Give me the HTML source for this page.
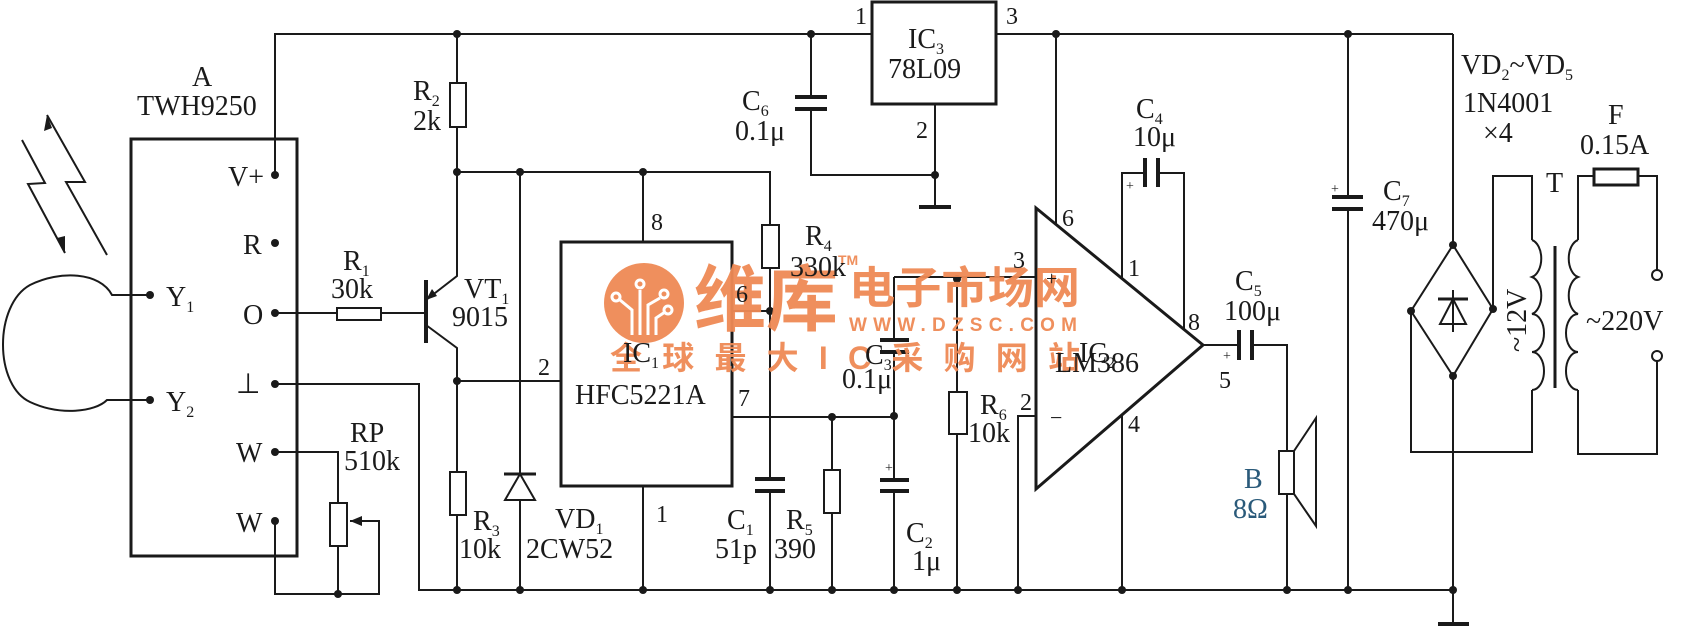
<!DOCTYPE html>
<html><head><meta charset="utf-8"><style>
html,body{margin:0;padding:0;background:#fff;}
svg{display:block;}
text{font-family:"Liberation Serif",serif;fill:#1a1a1a;}
.wm{font-family:"Liberation Sans","Noto Sans CJK SC",sans-serif;fill:#ef8a55;font-weight:bold;}
</style></head><body>
<svg width="1684" height="627" viewBox="0 0 1684 627" xmlns="http://www.w3.org/2000/svg">
<g stroke="#1a1a1a" stroke-width="2" fill="none">
<!-- top rail -->
<polyline points="275,175 275,34 872,34"/>
<line x1="996" y1="34" x2="1453" y2="34"/>
<line x1="1453" y1="34" x2="1453" y2="245"/>
<!-- box A -->
<rect x="131" y="139" width="166" height="417" stroke-width="3"/>
<!-- loop -->
<path d="M150,295 L112,295 C100,272 60,270 30,285 C-6,305 -6,385 30,402 C60,416 95,412 107,400 L150,400"/>
<!-- lightning -->
<polyline points="22,140 45,183 28,184 65,253"/>
<polyline points="47,115 85,182 66,182 107,255"/>
<!-- R1 -->
<line x1="275" y1="313" x2="337" y2="313"/>
<rect x="337" y="308" width="44" height="12"/>
<line x1="381" y1="313" x2="426" y2="313"/>
<!-- transistor -->
<line x1="426" y1="280" x2="426" y2="343" stroke-width="4"/>
<polyline points="426,300 457,276 457,172"/>
<polyline points="426,325 457,348 457,472"/>
<!-- R2 -->
<line x1="457" y1="34" x2="457" y2="83"/>
<rect x="450" y="83" width="16" height="44"/>
<line x1="457" y1="127" x2="457" y2="172"/>
<!-- 172 rail -->
<polyline points="457,172 770,172 770,225"/>
<rect x="762" y="225" width="17" height="43"/>
<line x1="770" y1="268" x2="770" y2="479"/>
<line x1="755" y1="479" x2="785" y2="479" stroke-width="4"/>
<line x1="755" y1="491" x2="785" y2="491" stroke-width="4"/>
<line x1="770" y1="491" x2="770" y2="590"/>
<!-- pin 6 -->
<line x1="732" y1="311" x2="770" y2="311"/>
<!-- IC1 -->
<rect x="561" y="242" width="171" height="244" stroke-width="3"/>
<line x1="643" y1="172" x2="643" y2="242"/>
<line x1="643" y1="486" x2="643" y2="590"/>
<line x1="457" y1="381" x2="561" y2="381"/>
<line x1="732" y1="417" x2="894" y2="417"/>
<!-- R3 -->
<rect x="450" y="472" width="16" height="43"/>
<line x1="457" y1="515" x2="457" y2="590"/>
<!-- VD1 -->
<line x1="520" y1="172" x2="520" y2="590"/>
<polygon points="520,474 505,500 535,500" fill="#fff"/>
<line x1="504" y1="474" x2="536" y2="474" stroke-width="3"/>
<!-- ground rail -->
<polyline points="275,384 419,384 419,590 1453,590"/>
<!-- RP -->
<polyline points="275,452 338,452 338,503"/>
<rect x="330" y="503" width="17" height="43"/>
<line x1="338" y1="546" x2="338" y2="594"/>
<polyline points="275,521 275,594 379,594 379,521 350,521"/>
<!-- R5 -->
<line x1="832" y1="417" x2="832" y2="470"/>
<rect x="824" y="470" width="16" height="43"/>
<line x1="832" y1="513" x2="832" y2="590"/>
<!-- C6 & IC3 -->
<line x1="811" y1="34" x2="811" y2="97"/>
<line x1="795" y1="97" x2="827" y2="97" stroke-width="4"/>
<line x1="795" y1="109" x2="827" y2="109" stroke-width="4"/>
<polyline points="811,109 811,175 935,175"/>
<rect x="872" y="2" width="124" height="102" stroke-width="3"/>
<line x1="935" y1="104" x2="935" y2="207"/>
<line x1="919" y1="207" x2="951" y2="207" stroke-width="4"/>
<!-- C3/C2 -->
<line x1="894" y1="277" x2="894" y2="340"/>
<line x1="880" y1="340" x2="909" y2="340" stroke-width="4"/>
<line x1="880" y1="352" x2="909" y2="352" stroke-width="4"/>
<line x1="894" y1="352" x2="894" y2="480"/>
<line x1="880" y1="480" x2="909" y2="480" stroke-width="4"/>
<line x1="880" y1="491" x2="909" y2="491" stroke-width="4"/>
<line x1="894" y1="491" x2="894" y2="590"/>
<line x1="894" y1="277" x2="1036" y2="277"/>
<!-- R6 -->
<line x1="957" y1="279" x2="957" y2="392"/>
<rect x="949" y="392" width="18" height="42"/>
<line x1="957" y1="434" x2="957" y2="590"/>
<polyline points="1036,416 1018,416 1018,590"/>
<!-- IC2 -->
<polygon points="1036,208 1036,489 1203,345" stroke-width="3"/>
<line x1="1056" y1="34" x2="1056" y2="224"/>
<polyline points="1122,279 1122,173 1145,173"/>
<line x1="1145" y1="158" x2="1145" y2="187" stroke-width="4"/>
<line x1="1158" y1="158" x2="1158" y2="187" stroke-width="4"/>
<polyline points="1158,173 1184,173 1184,329"/>
<line x1="1122" y1="415" x2="1122" y2="590"/>
<!-- C5 speaker -->
<line x1="1203" y1="345" x2="1239" y2="345"/>
<line x1="1239" y1="330" x2="1239" y2="360" stroke-width="4"/>
<line x1="1252" y1="330" x2="1252" y2="360" stroke-width="4"/>
<polyline points="1252,345 1287,345 1287,451"/>
<rect x="1279" y="451" width="15" height="43"/>
<line x1="1287" y1="494" x2="1287" y2="590"/>
<polygon points="1294,451 1316,418 1316,526 1294,494"/>
<!-- C7 -->
<line x1="1348" y1="34" x2="1348" y2="197"/>
<line x1="1332" y1="197" x2="1363" y2="197" stroke-width="4"/>
<line x1="1332" y1="209" x2="1363" y2="209" stroke-width="4"/>
<line x1="1348" y1="209" x2="1348" y2="590"/>
<!-- bridge -->
<polygon points="1453,245 1493,309 1453,376 1411,311"/>
<line x1="1453" y1="290" x2="1453" y2="332"/>
<polygon points="1453,299 1440,324 1466,324"/>
<line x1="1438" y1="299" x2="1468" y2="299" stroke-width="3"/>
<line x1="1453" y1="376" x2="1453" y2="624"/>
<line x1="1438" y1="624" x2="1469" y2="624" stroke-width="4"/>
<polyline points="1411,311 1411,452 1532,452 1532,390"/>
<polyline points="1493,309 1493,176 1532,176 1532,240"/>
<path d="M1532,240 a12,19 0 0 1 0,37 a12,19 0 0 1 0,37 a12,19 0 0 1 0,38 a12,19 0 0 1 0,38"/>
<line x1="1555" y1="246" x2="1555" y2="388" stroke-width="3"/>
<path d="M1578,240 a12,19 0 0 0 0,37 a12,19 0 0 0 0,37 a12,19 0 0 0 0,38 a12,19 0 0 0 0,38"/>
<polyline points="1578,240 1578,176 1594,176"/>
<rect x="1594" y="169" width="44" height="16" stroke-width="3"/>
<polyline points="1638,176 1657,176 1657,270"/>
<circle cx="1657" cy="275" r="5"/>
<circle cx="1657" cy="356" r="5"/>
<polyline points="1657,361 1657,454 1578,454 1578,390"/>
</g>
<!-- arrows -->
<g fill="#1a1a1a">
<polygon points="47,115 44,131 52,128"/>
<polygon points="65,253 57,238 65,236"/>
<polygon points="426,300 432,289 437,296"/>
<polygon points="350,521 362,516 362,526"/>
</g>
<!-- dots -->
<g fill="#1a1a1a">
<circle cx="275" cy="175" r="4"/><circle cx="275" cy="243" r="4"/><circle cx="275" cy="313" r="4"/>
<circle cx="275" cy="384" r="4"/><circle cx="275" cy="452" r="4"/><circle cx="275" cy="521" r="4"/>
<circle cx="150" cy="295" r="4"/><circle cx="150" cy="400" r="4"/>
<circle cx="457" cy="34" r="4"/><circle cx="811" cy="34" r="4"/><circle cx="1056" cy="34" r="4"/><circle cx="1348" cy="34" r="4"/>
<circle cx="457" cy="172" r="4"/><circle cx="520" cy="172" r="4"/><circle cx="643" cy="172" r="4"/>
<circle cx="770" cy="311" r="4"/><circle cx="457" cy="381" r="4"/><circle cx="832" cy="417" r="4"/><circle cx="894" cy="416" r="4"/>
<circle cx="935" cy="175" r="4"/><circle cx="957" cy="279" r="4"/>
<circle cx="457" cy="590" r="4"/><circle cx="520" cy="590" r="4"/><circle cx="643" cy="590" r="4"/><circle cx="770" cy="590" r="4"/>
<circle cx="832" cy="590" r="4"/><circle cx="894" cy="590" r="4"/><circle cx="957" cy="590" r="4"/><circle cx="1018" cy="590" r="4"/>
<circle cx="1122" cy="590" r="4"/><circle cx="1287" cy="590" r="4"/><circle cx="1348" cy="590" r="4"/><circle cx="1453" cy="590" r="4"/>
<circle cx="338" cy="594" r="4"/>
<circle cx="1453" cy="245" r="4"/><circle cx="1411" cy="311" r="4"/><circle cx="1493" cy="309" r="4"/><circle cx="1453" cy="376" r="4"/>
</g>
<!-- watermark -->
<g opacity="0.95">
<circle cx="644" cy="303" r="40" fill="#ef8a55"/>
<g stroke="#fff" stroke-width="3" fill="none">
<path d="M640,335 L640,290"/><circle cx="640" cy="284" r="4"/>
<path d="M632,335 L632,310 L620,300"/><circle cx="616" cy="297" r="4"/>
<path d="M648,335 L648,305 L660,298"/><circle cx="664" cy="294" r="4"/>
<path d="M656,335 L656,318 L665,312"/><circle cx="668" cy="310" r="4"/>
</g>
<text x="694" y="325" class="wm" font-size="72">维库</text>
<text x="849" y="303" class="wm" font-size="44" textLength="231" lengthAdjust="spacingAndGlyphs">电子市场网</text>
<text x="838" y="265" class="wm" font-size="14" font-weight="normal">TM</text>
<text x="849" y="331" class="wm" font-size="19" textLength="228" lengthAdjust="spacing">WWW.DZSC.COM</text>
<text x="610" y="369" class="wm" font-size="32" font-weight="normal" textLength="470" lengthAdjust="spacing">全球最大IC采购网站</text>
</g>
<!-- labels -->
<g font-size="28">
<text x="192" y="86">A</text>
<text x="137" y="115">TWH9250</text>
<text x="228" y="186">V+</text>
<text x="243" y="254">R</text>
<text x="243" y="324">O</text>
<text x="236" y="393">⊥</text>
<text x="236" y="462">W</text>
<text x="236" y="532">W</text>
<text x="166" y="306">Y<tspan font-size="16" dy="6">1</tspan></text>
<text x="166" y="411">Y<tspan font-size="16" dy="6">2</tspan></text>
<text x="343" y="270">R<tspan font-size="16" dy="6">1</tspan></text>
<text x="331" y="298">30k</text>
<text x="413" y="100">R<tspan font-size="16" dy="6">2</tspan></text>
<text x="413" y="130">2k</text>
<text x="464" y="298">VT<tspan font-size="16" dy="6">1</tspan></text>
<text x="452" y="326">9015</text>
<text x="350" y="442">RP</text>
<text x="344" y="470">510k</text>
<text x="473" y="530">R<tspan font-size="16" dy="6">3</tspan></text>
<text x="459" y="558">10k</text>
<text x="555" y="528">VD<tspan font-size="16" dy="6">1</tspan></text>
<text x="526" y="558">2CW52</text>
<text x="651" y="230" font-size="24">8</text>
<text x="538" y="375" font-size="24">2</text>
<text x="736" y="302" font-size="24">6</text>
<text x="738" y="406" font-size="24">7</text>
<text x="656" y="522" font-size="24">1</text>
<text x="623" y="362">IC<tspan font-size="16" dy="6">1</tspan></text>
<text x="575" y="404">HFC5221A</text>
<text x="805" y="245">R<tspan font-size="16" dy="6">4</tspan></text>
<text x="790" y="276">330k</text>
<text x="727" y="529">C<tspan font-size="16" dy="6">1</tspan></text>
<text x="715" y="558">51p</text>
<text x="786" y="529">R<tspan font-size="16" dy="6">5</tspan></text>
<text x="774" y="558">390</text>
<text x="742" y="110">C<tspan font-size="16" dy="6">6</tspan></text>
<text x="735" y="140">0.1μ</text>
<text x="855" y="24" font-size="24">1</text>
<text x="1006" y="24" font-size="24">3</text>
<text x="916" y="138" font-size="24">2</text>
<text x="908" y="48">IC<tspan font-size="16" dy="6">3</tspan></text>
<text x="888" y="78">78L09</text>
<text x="865" y="364">C<tspan font-size="16" dy="6">3</tspan></text>
<text x="842" y="388">0.1μ</text>
<text x="906" y="542">C<tspan font-size="16" dy="6">2</tspan></text>
<text x="912" y="570">1μ</text>
<text x="980" y="414">R<tspan font-size="16" dy="6">6</tspan></text>
<text x="968" y="442">10k</text>
<text x="1013" y="268" font-size="24">3</text>
<text x="1020" y="410" font-size="24">2</text>
<text x="1062" y="226" font-size="24">6</text>
<text x="1128" y="276" font-size="24">1</text>
<text x="1128" y="432" font-size="24">4</text>
<text x="1188" y="330" font-size="24">8</text>
<text x="1219" y="388" font-size="24">5</text>
<text x="1046" y="285" font-size="20">+</text>
<text x="1050" y="425" font-size="22">−</text>
<text x="1126" y="190" font-size="14">+</text>
<text x="1223" y="360" font-size="14">+</text>
<text x="1331" y="193" font-size="14">+</text>
<text x="885" y="472" font-size="14">+</text>
<text x="1079" y="362">IC<tspan font-size="16" dy="6">2</tspan></text>
<text x="1055" y="372">LM386</text>
<text x="1136" y="118">C<tspan font-size="16" dy="6">4</tspan></text>
<text x="1133" y="146">10μ</text>
<text x="1235" y="290">C<tspan font-size="16" dy="6">5</tspan></text>
<text x="1224" y="320">100μ</text>
<text x="1244" y="488" style="fill:#2a5a7a">B</text>
<text x="1233" y="518" style="fill:#2a5a7a">8Ω</text>
<text x="1383" y="200">C<tspan font-size="16" dy="6">7</tspan></text>
<text x="1372" y="230">470μ</text>
<text x="1461" y="74">VD<tspan font-size="16" dy="6">2</tspan><tspan dy="-6">~VD</tspan><tspan font-size="16" dy="6">5</tspan></text>
<text x="1463" y="112">1N4001</text>
<text x="1483" y="142">×4</text>
<text x="1608" y="124">F</text>
<text x="1580" y="154">0.15A</text>
<text x="1546" y="192">T</text>
<text x="1586" y="330">~220V</text>
<text transform="translate(1526,352) rotate(-90)">~12V</text>
</g>
</svg>
</body></html>
